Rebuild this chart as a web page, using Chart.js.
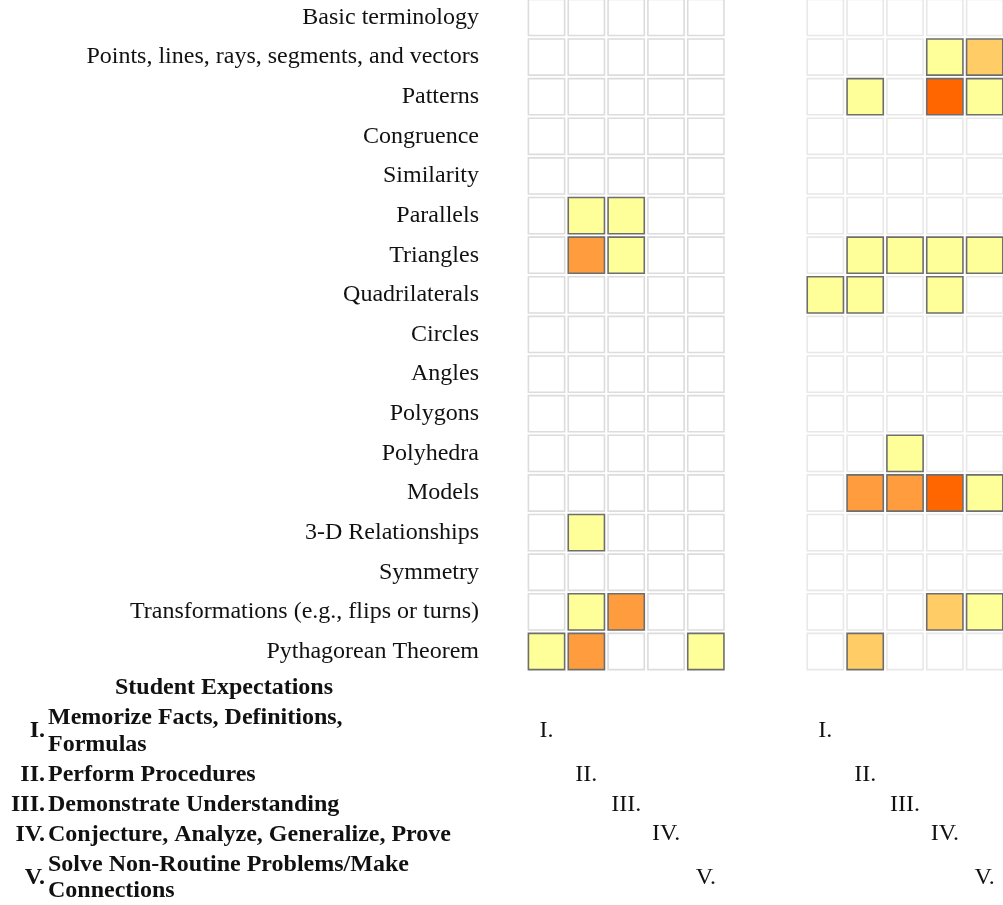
<!DOCTYPE html>
<html>
<head>
<meta charset="utf-8">
<script src="https://cdn.jsdelivr.net/npm/chart.js@4.4.0/dist/chart.umd.min.js"></script>
<style>
  html, body { margin: 0; padding: 0; background: #ffffff; }
  #wrap { position: relative; width: 1003px; height: 905px; }
  canvas { display: block; }
</style>
</head>
<body>
<div id="wrap"><canvas id="c" width="1003" height="905"></canvas></div>
<script>
// ---------------- data ----------------
const topics = [
  'Basic terminology',
  'Points, lines, rays, segments, and vectors',
  'Patterns',
  'Congruence',
  'Similarity',
  'Parallels',
  'Triangles',
  'Quadrilaterals',
  'Circles',
  'Angles',
  'Polygons',
  'Polyhedra',
  'Models',
  '3-D Relationships',
  'Symmetry',
  'Transformations (e.g., flips or turns)',
  'Pythagorean Theorem'
];

const expectationNumerals = ['I.', 'II.', 'III.', 'IV.', 'V.'];
const expectationNames = [
  ['Memorize Facts, Definitions,', 'Formulas'],
  ['Perform Procedures'],
  ['Demonstrate Understanding'],
  ['Conjecture, Analyze, Generalize, Prove'],
  ['Solve Non-Routine Problems/Make', 'Connections']
];
const legendTitle = 'Student Expectations';

// intensity level per topic (row) and expectation (column I..V): 0 = none .. 4 = highest
const leftPanel = [
  [0,0,0,0,0],
  [0,0,0,0,0],
  [0,0,0,0,0],
  [0,0,0,0,0],
  [0,0,0,0,0],
  [0,1,1,0,0],
  [0,3,1,0,0],
  [0,0,0,0,0],
  [0,0,0,0,0],
  [0,0,0,0,0],
  [0,0,0,0,0],
  [0,0,0,0,0],
  [0,0,0,0,0],
  [0,1,0,0,0],
  [0,0,0,0,0],
  [0,1,3,0,0],
  [1,3,0,0,1]
];
const rightPanel = [
  [0,0,0,0,0],
  [0,0,0,1,2],
  [0,1,0,4,1],
  [0,0,0,0,0],
  [0,0,0,0,0],
  [0,0,0,0,0],
  [0,1,1,1,1],
  [1,1,0,1,0],
  [0,0,0,0,0],
  [0,0,0,0,0],
  [0,0,0,0,0],
  [0,0,1,0,0],
  [0,3,3,4,1],
  [0,0,0,0,0],
  [0,0,0,0,0],
  [0,0,0,2,1],
  [0,2,0,0,0]
];
const levelColors = ['#ffffff', '#ffff99', '#ffcc66', '#ff9d3e', '#ff6600'];
const panelOffsets = [0, 7];
// vertical slot (in tick-label lines) of each numeral under the columns
const numeralLineSlots = [3, 6, 8, 10, 13];

// ---------------- build ----------------
function buildPoints(panel, offset) {
  const pts = [];
  panel.forEach((row, r) => row.forEach((v, c) => pts.push({ x: offset + c, y: r, v: v })));
  return pts;
}
const columnTicks = [];
panelOffsets.forEach(o => expectationNumerals.forEach((_, i) => columnTicks.push(o + i)));

function columnLabel(value) {
  const idx = Math.round(value) - (value >= panelOffsets[1] ? panelOffsets[1] : panelOffsets[0]);
  if (idx < 0 || idx > 4) return '';
  const lines = [];
  for (let k = 0; k < numeralLineSlots[idx]; k++) lines.push('');
  lines.push(expectationNumerals[idx]);
  return lines;
}

const SERIF = '"Liberation Serif", "Times New Roman", Times, serif';
const FONT_SIZE = 24;

const cellStyle = (emptyBorder) => ({
  pointStyle: 'rect',
  pointRadius: 25.6,
  pointHoverRadius: 25.6,
  pointBorderWidth: 1.6,
  pointHoverBorderWidth: 1.6,
  pointBackgroundColor: ctx => levelColors[ctx.raw ? ctx.raw.v : 0],
  pointHoverBackgroundColor: ctx => levelColors[ctx.raw ? ctx.raw.v : 0],
  pointBorderColor: ctx => (ctx.raw && ctx.raw.v > 0) ? '#6e6e6e' : emptyBorder,
  pointHoverBorderColor: ctx => (ctx.raw && ctx.raw.v > 0) ? '#6e6e6e' : emptyBorder,
  showLine: false,
  clip: false
});

const legendPlugin = {
  id: 'expectationLegend',
  afterDraw(chart) {
    const ctx = chart.ctx;
    ctx.save();
    ctx.fillStyle = '#111111';
    ctx.textBaseline = 'middle';
    ctx.font = 'bold ' + FONT_SIZE + 'px ' + SERIF;
    ctx.textAlign = 'center';
    ctx.fillText(legendTitle, 224, 688);
    const numeralY = [731, 775, 805, 835, 878];
    const textY = [[718, 745], [775], [805], [835], [865, 891]];
    expectationNumerals.forEach((n, i) => {
      ctx.textAlign = 'right';
      ctx.fillText(n, 45, numeralY[i]);
      ctx.textAlign = 'left';
      expectationNames[i].forEach((line, j) => ctx.fillText(line, 48, textY[i][j]));
    });
    ctx.restore();
  }
};

new Chart(document.getElementById('c'), {
  type: 'scatter',
  data: {
    datasets: [
      Object.assign({ label: 'Panel A', data: buildPoints(leftPanel, panelOffsets[0]) }, cellStyle('#dcdcdc')),
      Object.assign({ label: 'Panel B', data: buildPoints(rightPanel, panelOffsets[1]) }, cellStyle('#e8e8e8'))
    ]
  },
  options: {
    responsive: false,
    animation: false,
    devicePixelRatio: 1,
    events: [],
    layout: { padding: 0, autoPadding: false },
    plugins: { legend: { display: false }, tooltip: { enabled: false } },
    scales: {
      x: {
        type: 'linear',
        position: 'bottom',
        min: -0.5,
        max: 11.46,
        grid: { display: false, drawTicks: false },
        border: { display: false },
        afterBuildTicks: s => { s.ticks = columnTicks.map(v => ({ value: v })); },
        afterFit: s => {
          s.height = 905 - 671.3;
          s.paddingLeft = 0; s.paddingRight = 0; s.paddingTop = 0; s.paddingBottom = 0;
        },
        ticks: {
          autoSkip: false,
          maxRotation: 0,
          minRotation: 0,
          padding: 8,
          color: '#111111',
          font: { family: SERIF, size: FONT_SIZE, lineHeight: '14.7px' },
          callback: v => columnLabel(v)
        }
      },
      y: {
        type: 'linear',
        reverse: true,
        min: -0.44,
        max: 16.5,
        grid: { display: false, drawTicks: false },
        border: { display: false },
        afterBuildTicks: s => { s.ticks = topics.map((_, i) => ({ value: i })); },
        afterFit: s => {
          s.width = 526.6;
          s.paddingLeft = 0; s.paddingRight = 0; s.paddingTop = 0; s.paddingBottom = 0;
        },
        ticks: {
          autoSkip: false,
          padding: 47.6,
          color: '#111111',
          font: { family: SERIF, size: FONT_SIZE },
          callback: v => topics[Math.round(v)] || ''
        }
      }
    }
  },
  plugins: [legendPlugin]
});
</script>
</body>
</html>
